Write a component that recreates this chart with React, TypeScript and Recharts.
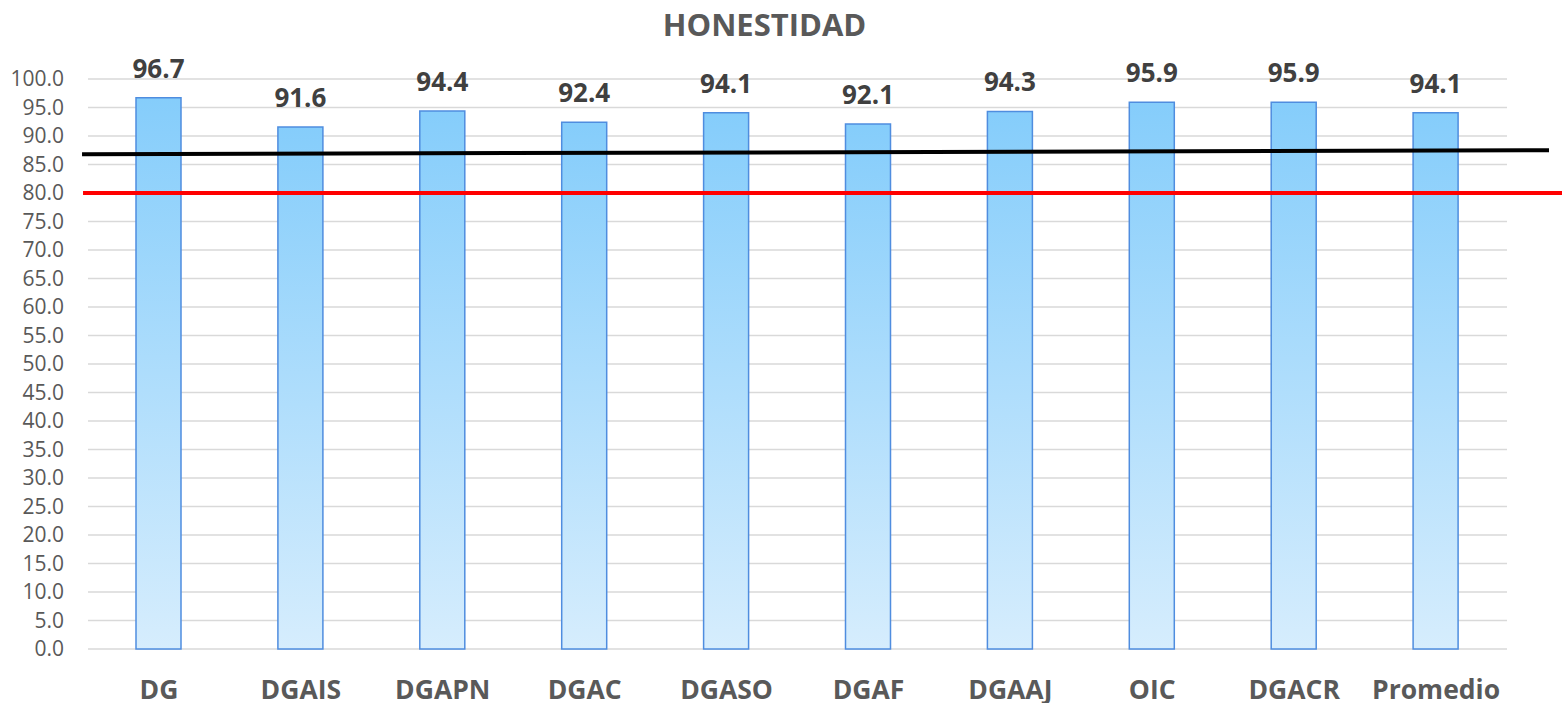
import { BarChart, Bar, XAxis, YAxis, CartesianGrid, LabelList, ReferenceLine } from "recharts";

const categories = ["DG", "DGAIS", "DGAPN", "DGAC", "DGASO", "DGAF", "DGAAJ", "OIC", "DGACR", "Promedio"];
const scores = [96.7, 91.6, 94.4, 92.4, 94.1, 92.1, 94.3, 95.9, 95.9, 94.1];
const yTicks = [0, 5, 10, 15, 20, 25, 30, 35, 40, 45, 50, 55, 60, 65, 70, 75, 80, 85, 90, 95, 100];

// goal line (red) and trend line (black), x in category-index units
const goalLine = [{ x: -0.535, y: 80 }, { x: 9.888, y: 80 }];
const trendLine = [{ x: -0.542, y: 86.8 }, { x: 9.796, y: 87.5 }];

const data = categories.map((name, i) => ({ name, idx: i, value: scores[i] }));

const FONT = "'Open Sans', sans-serif";
const GREY = "#595959";

export default function App() {
  return (
    <div style={{ position: "absolute", left: 0, top: 0, width: 1562, height: 703, background: "#fff", fontFamily: FONT }}>
      <div
        style={{
          position: "absolute",
          left: 0,
          top: 2,
          width: 1529,
          textAlign: "center",
          fontSize: 31,
          fontWeight: 700,
          color: GREY,
          lineHeight: "44px",
        }}
      >
        HONESTIDAD
      </div>
      <BarChart width={1562} height={703} data={data} margin={{ top: 79, right: 55, bottom: 0, left: 0 }}>
        <defs>
          <linearGradient id="barFill" x1="0" y1="0" x2="0" y2="1">
            <stop offset="0%" stopColor="#85CDFB" />
            <stop offset="100%" stopColor="#D6EDFD" />
          </linearGradient>
        </defs>
        <CartesianGrid horizontal vertical={false} stroke="#D9D9D9" strokeWidth={1.5} />
        <XAxis
          dataKey="name"
          height={54}
          axisLine={false}
          tickLine={false}
          tickSize={0}
          tickMargin={31}
          interval={0}
          tick={{ fill: GREY, fontSize: 26.5, fontWeight: 700, fontFamily: FONT }}
        />
        <XAxis
          xAxisId="pos"
          dataKey="idx"
          type="number"
          domain={[-0.5, 9.5]}
          allowDataOverflow
          padding={{ left: 0, right: 0 }}
          hide
        />
        <YAxis
          width={88}
          domain={[0, 100]}
          ticks={yTicks}
          interval={0}
          axisLine={false}
          tickLine={false}
          tickSize={0}
          tickMargin={24}
          tickFormatter={(v) => Number(v).toFixed(1)}
          tick={{ fill: GREY, fontSize: 21, fontFamily: FONT }}
        />
        <Bar dataKey="value" barSize={45} fill="url(#barFill)" stroke="#4F8DDF" strokeWidth={1.5} isAnimationActive={false}>
          <LabelList
            dataKey="value"
            position="top"
            offset={20}
            formatter={(v) => Number(v).toFixed(1)}
            style={{ fill: "#404040", fontSize: 26, fontWeight: 700, fontFamily: FONT }}
          />
        </Bar>
        <ReferenceLine xAxisId="pos" segment={goalLine} stroke="#FF0000" strokeWidth={4} ifOverflow="visible" />
        <ReferenceLine xAxisId="pos" segment={trendLine} stroke="#000000" strokeWidth={4} ifOverflow="visible" />
      </BarChart>
    </div>
  );
}
